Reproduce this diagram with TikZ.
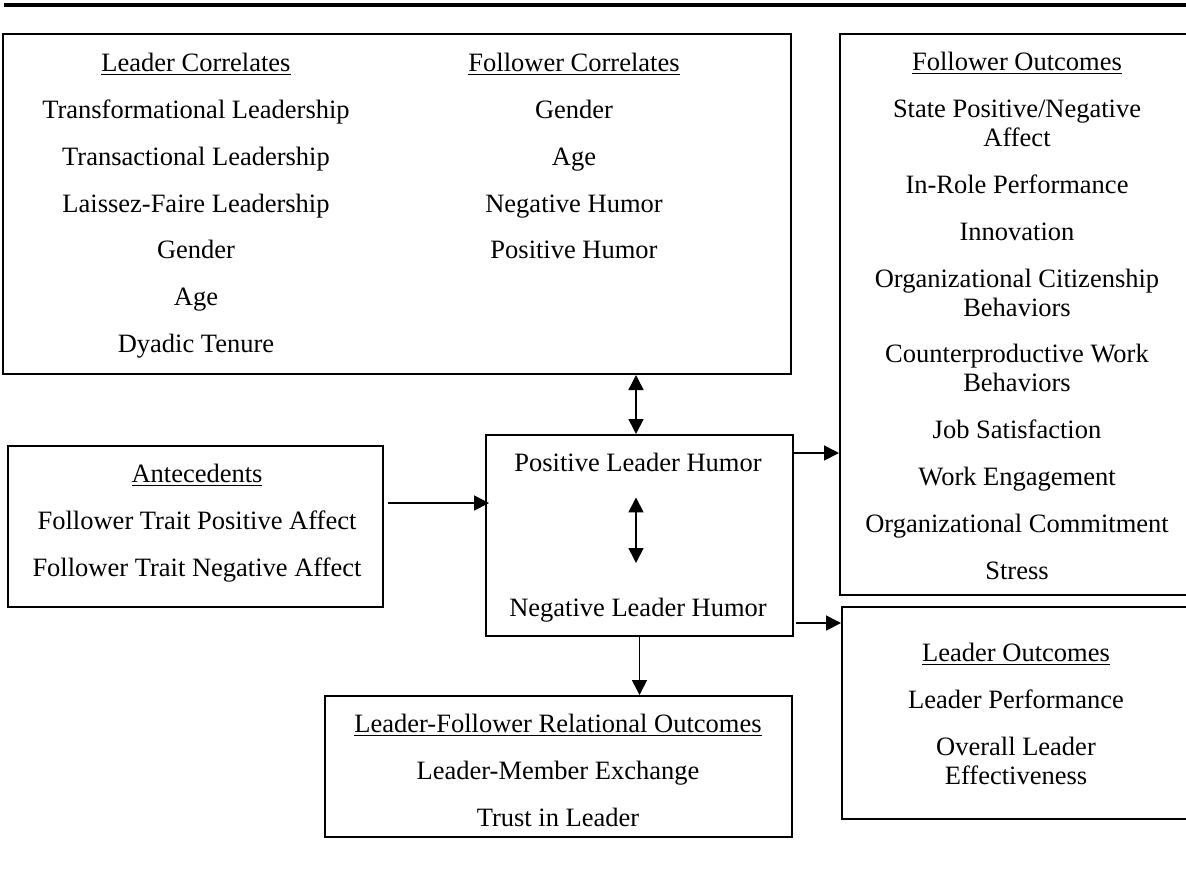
\documentclass[tikz,border=0pt]{standalone}
\usepackage{fontspec}
\setmainfont{Liberation Serif}
\usetikzlibrary{arrows.meta, positioning, calc}

\tikzset{
  box/.style={draw, line width=1pt, anchor=north west, inner sep=0pt},
  list/.style={anchor=north, align=center, inner sep=0pt, font=\fontsize{13.25}{14.5}\selectfont},
  link/.style={line width=0.8pt, -{Triangle[length=7.5pt, width=7.5pt]}},
  dbl/.style={line width=0.8pt, {Triangle[length=7.5pt, width=7.5pt]}-{Triangle[length=7.5pt, width=7.5pt]}}
}
\newcommand{\nx}{\\[8.9pt]}

\begin{document}
\begin{tikzpicture}[x=0.5pt, y=-0.5pt]
  \clip (0,0) rectangle (1186,869);
  \draw[line width=1.75pt] (4,5) -- (1186,5);

  % boxes
  \node[box, minimum width=394pt, minimum height=170pt] (corr) at (2,33) {};
  \node[box, minimum width=180.5pt, minimum height=280.5pt] (fout) at (839,33) {};
  \node[box, minimum width=187.5pt, minimum height=80.5pt] (ante) at (7,445) {};
  \node[box, minimum width=153.5pt, minimum height=100.5pt] (humor) at (485,434) {};
  \node[box, minimum width=180pt, minimum height=106pt] (lout) at (841,606) {};
  \node[box, minimum width=233.5pt, minimum height=70.5pt] (rel) at (324,695) {};

  % texts
  \node[list] (lcor) at (196,53) {\underline{Leader Correlates}\nx Transformational Leadership\nx
    Transactional Leadership\nx Laissez-Faire Leadership\nx Gender\nx Age\nx Dyadic Tenure};
  \node[list] (fcor) at (574,53) {\underline{Follower Correlates}\nx Gender\nx Age\nx
    Negative Humor\nx Positive Humor};
  \node[list] (fouttxt) at (1017,52) {\underline{Follower Outcomes}\nx State Positive/Negative\\ Affect\nx
    In-Role Performance\nx Innovation\nx Organizational Citizenship\\ Behaviors\nx
    Counterproductive Work\\ Behaviors\nx Job Satisfaction\nx Work Engagement\nx
    Organizational Commitment\nx Stress};
  \node[list] (antetxt) at (197,464) {\underline{Antecedents}\nx Follower Trait Positive Affect\nx
    Follower Trait Negative Affect};
  \node[list] (pos) at (638,453) {Positive Leader Humor};
  \node[list] (neg) at (638,598) {Negative Leader Humor};
  \node[list] (louttxt) at (1016,643) {\underline{Leader Outcomes}\nx Leader Performance\nx
    Overall Leader\\ Effectiveness};
  \node[list] (reltxt) at (558,714) {\underline{Leader-Follower Relational Outcomes}\nx
    Leader-Member Exchange\nx Trust in Leader};

  % connectors
  \draw[dbl] ([xshift=-1.75pt]humor.north) -- ([xshift=-1.75pt]humor.north |- corr.south);
  \draw[dbl, shorten <=12.5pt, shorten >=17.5pt] ([xshift=-1pt]pos.south) -- ([xshift=-1pt]neg.north);
  \draw[link] ([shift={(2pt,11.75pt)}]ante.east) -- ([shift={(2pt,11.75pt)}]ante.east -| humor.west);
  \draw[link] ([yshift=-9.5pt]humor.north east) -- ([yshift=-9.5pt]humor.north east -| fout.west);
  \draw[link] ([shift={(1pt,7pt)}]humor.south east) -- ([yshift=7pt]humor.south east -| lout.west);
  \draw[link] (humor.south) -- (humor.south |- rel.north);
\end{tikzpicture}
\end{document}
